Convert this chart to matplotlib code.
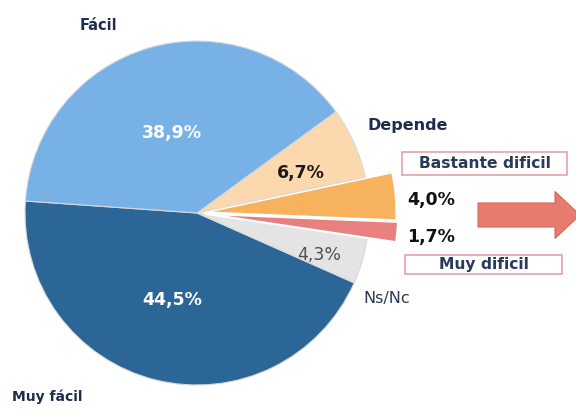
import matplotlib
matplotlib.use("Agg")
import matplotlib.pyplot as plt
from matplotlib.patches import FancyArrow

categories = ["Muy fácil", "Ns/Nc", "Muy dificil", "Bastante dificil", "Depende", "Fácil"]
values = [44.5, 4.3, 1.7, 4.0, 6.7, 38.9]
pct_labels = ["44,5%", "4,3%", "1,7%", "4,0%", "6,7%", "38,9%"]
colors = ["#2b6697", "#e4e4e4", "#e98080", "#f7b25e", "#fbd8ad", "#78b1e6"]

fig = plt.figure(figsize=(5.76, 4.09), dpi=100)
ax = fig.add_axes([0, 0, 1, 1])
R = 172.0
cx, cy = 197.0, 213.0
W, H = 576.0, 409.0

def px(x, y):
    return (x - cx) / R, (cy - y) / R

explode = [0, 0, 0.05, 0.04, 0, 0]
wedges, _ = ax.pie(values, colors=colors, startangle=176, counterclock=True,
                   explode=explode, radius=1.0,
                   wedgeprops=dict(edgecolor="#d8d8d8", linewidth=0.8))
# the two "difficult" slices stick out further
for i in (2, 3):
    wedges[i].set_radius(1.12)
    wedges[i].set_edgecolor("white")
    wedges[i].set_linewidth(1.6)

ax.set_xlim(-cx / R, (W - cx) / R)
ax.set_ylim(-(H - cy) / R, cy / R)
ax.set_aspect("equal")
ax.set_axis_off()

navy = "#1e2d4d"
# category labels
x, y = px(98, 25)
ax.text(x, y, categories[5], ha="center", va="center", fontsize=10.5, fontweight="bold", color=navy)
x, y = px(47, 397)
ax.text(x, y, categories[0], ha="center", va="center", fontsize=10, fontweight="bold", color=navy)
x, y = px(408, 125)
ax.text(x, y, categories[4], ha="center", va="center", fontsize=11.5, fontweight="bold", color=navy)
x, y = px(387, 298)
ax.text(x, y, categories[1], ha="center", va="center", fontsize=11.5, color="#2a3a55")

# percentage labels inside the pie
x, y = px(172, 133)
ax.text(x, y, pct_labels[5], ha="center", va="center", fontsize=12.5, fontweight="bold", color="white")
x, y = px(172, 300)
ax.text(x, y, pct_labels[0], ha="center", va="center", fontsize=12.5, fontweight="bold", color="white")
x, y = px(301, 173)
ax.text(x, y, pct_labels[4], ha="center", va="center", fontsize=12.5, fontweight="bold", color="#1a1a1a")
x, y = px(319, 255)
ax.text(x, y, pct_labels[1], ha="center", va="center", fontsize=12.5, color="#505050")

# difficult values
x, y = px(431, 200)
ax.text(x, y, pct_labels[3], ha="center", va="center", fontsize=12.5, fontweight="bold", color="#111111")
x, y = px(431, 237)
ax.text(x, y, pct_labels[2], ha="center", va="center", fontsize=12.5, fontweight="bold", color="#111111")

# boxed labels
for (bx0, by0, bx1, by1, label) in [(402, 152, 567, 175, categories[3]),
                                    (405, 255, 562, 274, categories[2])]:
    x0, y0 = px(bx0, by1)
    x1, y1 = px(bx1, by0)
    rect = plt.Rectangle((x0, y0), x1 - x0, y1 - y0, facecolor="white",
                         edgecolor="#e6a2aa", linewidth=1.2)
    ax.add_patch(rect)
    ax.text((x0 + x1) / 2, (y0 + y1) / 2, label, ha="center", va="center",
            fontsize=11.2, fontweight="bold", color="#2a3a5a")

# arrow
ax0, ay = px(478, 215)
ax1, _ = px(580, 215)
arrow = FancyArrow(ax0, ay, ax1 - ax0, 0, width=24 / R, head_width=47 / R,
                   head_length=25 / R, length_includes_head=True,
                   facecolor="#e97a6e", edgecolor="#d9665c", linewidth=0.8)
ax.add_patch(arrow)

fig.savefig("out.png", dpi=100)
